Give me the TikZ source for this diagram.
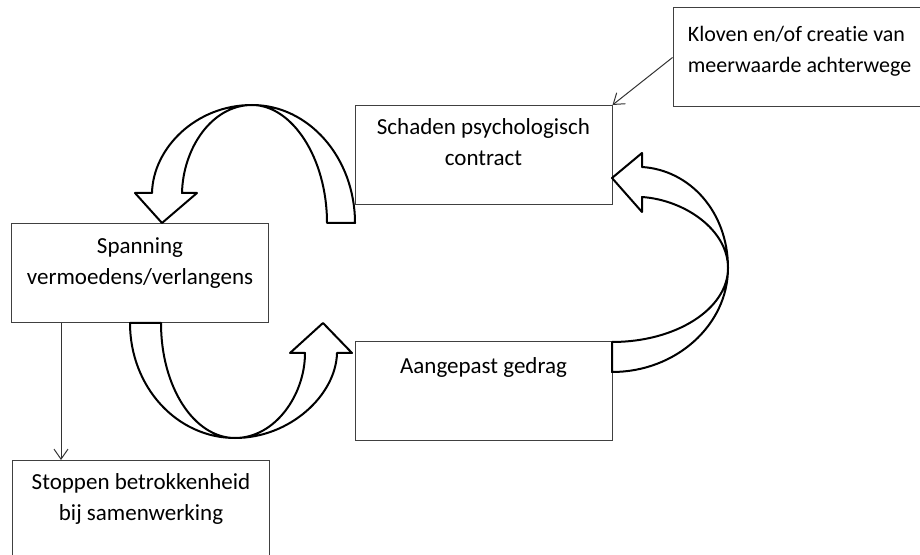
\documentclass[tikz,border=0pt]{standalone}
\usepackage{fontspec}
\setmainfont{Carlito}[Ligatures=NoCommon]
\usetikzlibrary{positioning,arrows.meta}
\tikzstyle{blok} = [rectangle, draw=black!75, line width=.5pt, minimum width=128.5pt, minimum height=49.5pt, inner sep=0pt]
\tikzstyle{tekst} = [align=center, inner sep=0pt, font=\fontsize{11.5}{15.5}\selectfont]
\tikzstyle{pijl} = [draw=black, line width=1pt, fill=white, line join=round]
\tikzstyle{lijn} = [draw=black!80, line width=.5pt, -{Straight Barb[length=5pt,width=7pt]}]

\begin{document}
\begin{tikzpicture}[x=.5pt, y=-.5pt]
			\clip (0,0) rectangle (920,555);
			\fill[white] (0,0) rectangle (920,555);
			\node [blok] (kloof) at (801.5,57.5) {};
			\node [blok] (schade) at (483.5,155) {};
			\node [blok] (spanning) at (140,273.5) {};
			\node [blok] (gedrag) at (483.5,391) {};
			\node [blok] (stop) at (141,510) {};
			\node [tekst, align=left, font=\fontsize{11}{15.5}\selectfont, below right=6.2pt and 7.5pt of kloof.north west] (kloofT) {\strut Kloven en/of creatie van\\meerwaarde achterwege};
			\node [tekst, below=3.8pt of schade.north] (schadeT) {\strut Schaden psychologisch\\contract};
			\node [tekst, below=3.8pt of spanning.north] (spanningT) {\strut Spanning\\vermoedens/verlangens};
			\node [tekst, below=5.2pt of gedrag.north] (gedragT) {\strut Aangepast gedrag};
			\node [tekst, below=3.8pt of stop.north] (stopT) {\strut Stoppen betrokkenheid\\bij samenwerking};
			\draw [lijn] (kloof.west) -- (schade.north east);
			\draw [lijn] ([xshift=25pt]spanning.south west) -- ([xshift=24.5pt]stop.north west);
			\draw [pijl] (355,223) .. controls (355,158) and (309,105) .. (252,105)
				.. controls (196,105) and (153,148) .. (152,193)
				-- (135,193) -- (162,223) -- (197,193) -- (182,193)
				.. controls (183,148) and (212,105) .. (252,105)
				.. controls (292,105) and (327,158) .. (327,223) -- cycle;
			\draw [pijl] (130,323) .. controls (130,387) and (177,438) .. (235,438)
				.. controls (290,438) and (336,395) .. (337,353)
				-- (352,353) -- (323,323) -- (290,353) -- (305,353)
				.. controls (305,395) and (275,438) .. (235,438)
				.. controls (194,438) and (161,387) .. (161,323) -- cycle;
			\draw [pijl] (612,372) .. controls (676,372) and (728,325) .. (728,268)
				.. controls (728,212) and (690,170) .. (642,167)
				-- (642,153) -- (612,178) -- (642,212) -- (642,197)
				.. controls (685,200) and (728,230) .. (728,268)
				.. controls (728,309) and (676,342) .. (612,342) -- cycle;
		\end{tikzpicture}
\end{document}
